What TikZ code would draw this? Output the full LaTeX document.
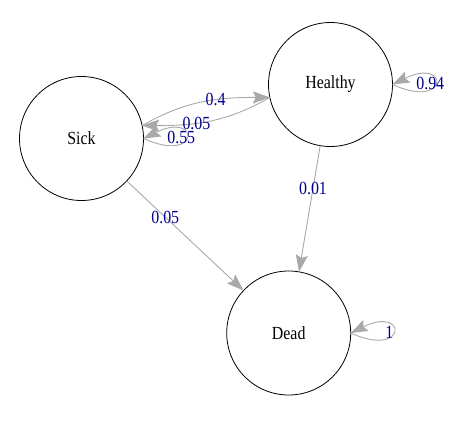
\documentclass[tikz,border=0pt]{standalone}
\usepackage{fontspec}
\setmainfont{Liberation Serif}[FakeStretch=0.86]
\usetikzlibrary{arrows.meta}
\definecolor{edgegrey}{HTML}{A9A9A9}
\definecolor{lblblue}{HTML}{00008B}
\begin{document}
\begin{tikzpicture}[x=1pt,y=-1pt,
  vtx/.style={circle,draw=black,fill=white,line width=0.8pt,minimum size=124pt,inner sep=0pt,outer sep=0pt,font=\fontsize{18.5}{20}\selectfont},
  edge/.style={draw=edgegrey,line width=0.9pt,-{Stealth[length=17pt,width=12pt,inset=3pt,fill=edgegrey]}},
  lbl/.style={text=lblblue,font=\fontsize{18.5}{20}\selectfont,inner sep=0pt}]
\useasboundingbox (0,0) rectangle (463,421);
\node[vtx] (S) at (81.5,138.5) {Sick};
\node[vtx] (H) at (330.5,84.5) {Healthy};
\node[vtx] (D) at (288.7,333) {Dead};
% curved edges between Sick and Healthy
\draw[edge] (S.12.24) to[out=30,in=180] node[lbl,pos=0.6] {0.4} (H.192.24);
\draw[edge] (H.192.24) to[out=210,in=0] node[lbl,pos=0.6] {0.05} (S.12.24);
% straight edges
\draw[edge] (S) -- node[lbl,pos=0.33] {0.05} (D);
\draw[edge] (H) -- node[lbl,pos=0.34] {0.01} (D);
% self loops
\draw[edge] (S.east) .. controls +(57,26) and +(57,-28) .. node[lbl,pos=0.5,xshift=-5pt] {0.55} (S.east);
\draw[edge] (H.east) .. controls +(57,26) and +(57,-28) .. node[lbl,pos=0.5,xshift=-5pt] {0.94} (H.east);
\draw[edge] (D.east) .. controls +(57,26) and +(57,-28) .. node[lbl,pos=0.5,xshift=-4pt] {1} (D.east);
\end{tikzpicture}
\end{document}
